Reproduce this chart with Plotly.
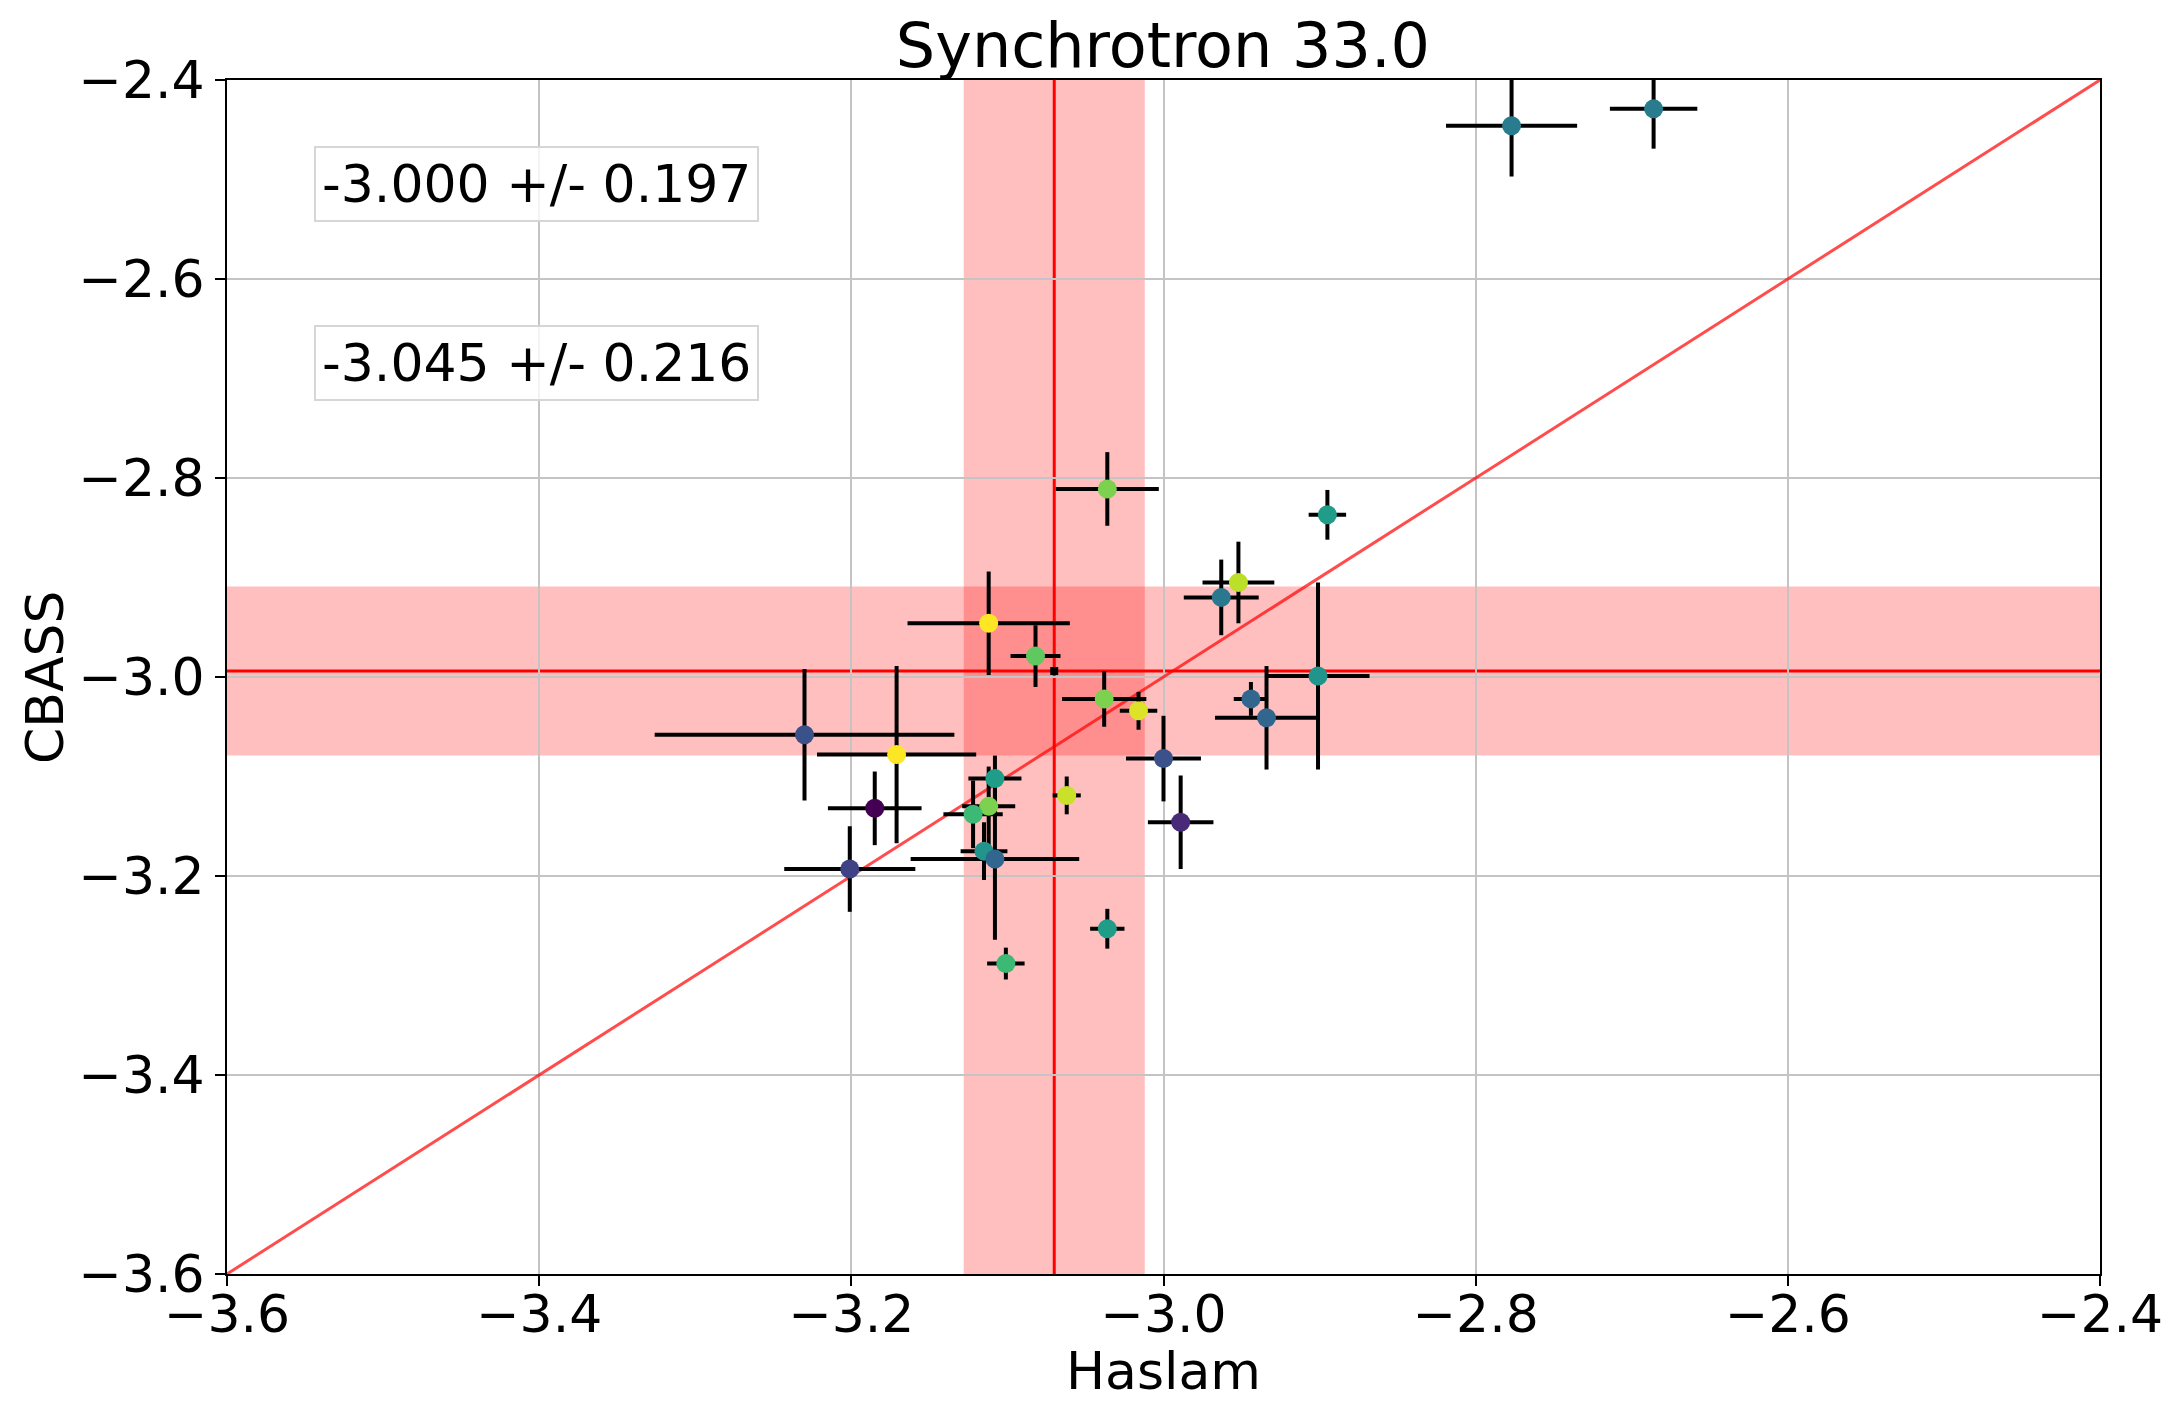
import plotly.graph_objects as go

# Spectral index comparison: Haslam (x) vs CBASS (y)
haslam = [-3.036, -2.895, -2.952, -2.963, -3.112, -3.082, -2.901, -2.944, -2.934,
          -3.038, -3.016, -3.000, -3.230, -3.171, -3.108, -3.185, -3.112, -3.122,
          -3.062, -2.989, -3.115, -3.108, -3.201, -3.036, -3.101, -2.777, -2.686]
haslam_err = [0.033, 0.012, 0.023, 0.024, 0.052, 0.016, 0.033, 0.011, 0.033,
              0.027, 0.012, 0.024, 0.096, 0.051, 0.017, 0.030, 0.017, 0.019,
              0.009, 0.021, 0.015, 0.054, 0.042, 0.011, 0.012, 0.042, 0.028]
cbass = [-2.811, -2.837, -2.905, -2.920, -2.946, -2.979, -2.999, -3.022, -3.041,
         -3.022, -3.034, -3.082, -3.058, -3.078, -3.102, -3.132, -3.130, -3.138,
         -3.119, -3.146, -3.175, -3.183, -3.193, -3.253, -3.288, -2.446, -2.429]
cbass_err = [0.037, 0.025, 0.041, 0.038, 0.052, 0.031, 0.094, 0.017, 0.052,
             0.028, 0.019, 0.043, 0.066, 0.089, 0.023, 0.037, 0.040, 0.034,
             0.019, 0.047, 0.029, 0.081, 0.043, 0.020, 0.016, 0.051, 0.040]
colour_value = [0.80, 0.55, 0.90, 0.40, 1.00, 0.75, 0.52, 0.33, 0.33,
                0.80, 0.95, 0.25, 0.25, 1.00, 0.55, 0.00, 0.80, 0.68,
                0.92, 0.12, 0.52, 0.33, 0.20, 0.55, 0.68, 0.42, 0.42]

# Weighted means and their bands
haslam_mean, haslam_band = -3.070, 0.058
cbass_mean, cbass_band = -2.994, 0.085

fit_labels = ["-3.000 +/- 0.197", "-3.045 +/- 0.216"]

axis_range = [-3.6, -2.4]
tick_values = [-3.6, -3.4, -3.2, -3.0, -2.8, -2.6, -2.4]

FONT = "DejaVu Sans"
BAND = "rgba(255,0,0,0.25)"

fig = go.Figure()

# one-to-one line
fig.add_trace(go.Scatter(
    x=axis_range, y=axis_range, mode="lines",
    line=dict(color="rgba(255,0,0,0.7)", width=3),
    hoverinfo="skip", showlegend=False,
))

fig.add_trace(go.Scatter(
    x=haslam, y=cbass, mode="markers",
    marker=dict(size=19, color=colour_value, colorscale="Viridis", cmin=0, cmax=1,
                line=dict(width=0)),
    error_x=dict(type="data", array=haslam_err, color="black", thickness=4, width=0),
    error_y=dict(type="data", array=cbass_err, color="black", thickness=4, width=0),
    showlegend=False,
))

# mean marker at the crossing
fig.add_trace(go.Scatter(
    x=[haslam_mean], y=[cbass_mean], mode="markers",
    marker=dict(size=8, color="black", symbol="square"),
    showlegend=False,
))

shapes = [
    dict(type="rect", xref="x", yref="paper", x0=haslam_mean - haslam_band,
         x1=haslam_mean + haslam_band, y0=0, y1=1, fillcolor=BAND,
         line=dict(width=0), layer="between"),
    dict(type="rect", xref="paper", yref="y", x0=0, x1=1,
         y0=cbass_mean - cbass_band, y1=cbass_mean + cbass_band,
         fillcolor=BAND, line=dict(width=0), layer="between"),
    dict(type="line", xref="x", yref="paper", x0=haslam_mean, x1=haslam_mean,
         y0=0, y1=1, line=dict(color="red", width=3), layer="between"),
    dict(type="line", xref="paper", yref="y", x0=0, x1=1,
         y0=cbass_mean, y1=cbass_mean, line=dict(color="red", width=3), layer="between"),
]

annotations = []
for label, ypos in zip(fit_labels, [0.9133, 0.7626]):
    annotations.append(dict(
        text=label, xref="paper", yref="paper", x=0.1652, y=ypos,
        xanchor="center", yanchor="middle", showarrow=False,
        font=dict(family=FONT, size=52, color="black"),
        bgcolor="rgba(255,255,255,0.8)", bordercolor="#d6d6d6",
        borderwidth=2, borderpad=6,
    ))
annotations.append(dict(
    text="Haslam", xref="paper", yref="paper", x=0.5, y=-0.081,
    xanchor="center", yanchor="middle", showarrow=False,
    font=dict(family=FONT, size=52, color="black"),
))
annotations.append(dict(
    text="CBASS", xref="paper", yref="paper", x=-0.0972, y=0.5,
    xanchor="center", yanchor="middle", showarrow=False, textangle=-90,
    font=dict(family=FONT, size=52, color="black"),
))

axis_common = dict(
    range=axis_range, tickvals=tick_values, tickformat=".1f",
    showgrid=True, gridcolor="#c4c4c4", gridwidth=2,
    showline=True, linecolor="black", linewidth=2, mirror=True,
    ticks="outside", ticklen=10, tickwidth=2, tickcolor="black",
    tickfont=dict(family=FONT, size=52, color="black"),
    zeroline=False,
)

fig.update_layout(
    width=2184, height=1404,
    margin=dict(l=227, r=84, t=80, b=130),
    paper_bgcolor="white", plot_bgcolor="white",
    title=dict(text="Synchrotron 33.0", x=0.5325, xanchor="center",
               y=0.968, yanchor="middle", yref="container",
               font=dict(family=FONT, size=62, color="black")),
    xaxis=dict(axis_common, ticklabelstandoff=-16),
    yaxis=axis_common,
    shapes=shapes,
    annotations=annotations,
)

fig.write_html("out.html")
